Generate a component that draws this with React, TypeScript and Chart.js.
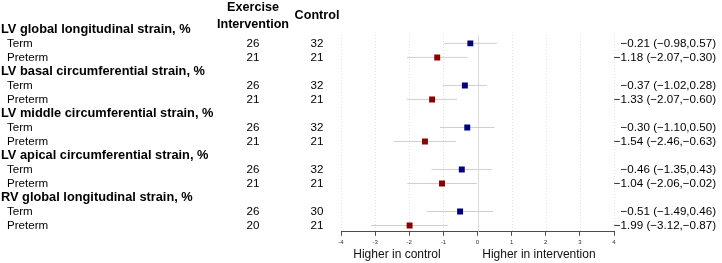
import React, { useEffect, useRef } from "react";
import { Chart, registerables } from "chart.js";

Chart.register(...registerables);

// ---- Data ----
const groupLabels = [
  "LV global longitudinal strain, %",
  "LV basal circumferential strain, %",
  "LV middle circumferential strain, %",
  "LV apical circumferential strain, %",
  "RV global longitudinal strain, %",
];
const subgroupLabels = ["Term", "Preterm"];

const termInterventionN = [26, 26, 26, 26, 26];
const termControlN = [32, 32, 32, 32, 30];
const pretermInterventionN = [21, 21, 21, 21, 20];
const pretermControlN = [21, 21, 21, 21, 21];

const termEst = [-0.21, -0.37, -0.3, -0.46, -0.51];
const termLo = [-0.98, -1.02, -1.1, -1.35, -1.49];
const termHi = [0.57, 0.28, 0.5, 0.43, 0.46];

const pretermEst = [-1.18, -1.33, -1.54, -1.04, -1.99];
const pretermLo = [-2.07, -2.07, -2.46, -2.06, -3.12];
const pretermHi = [-0.3, -0.6, -0.63, -0.02, -0.87];

const xMin = -4;
const xMax = 4;
const axisTitles = ["Higher in control", "Higher in intervention"];
const columnHeaders = ["Exercise", "Intervention", "Control"];

const FONT = "'Liberation Sans', Arial, Helvetica, sans-serif";
const BLUE = "#00007f";
const RED = "#8b0000";

const rowOf = (g: number, s: number) => g * 3 + 1 + s;
const fmt = (v: number) => {
  const s = Math.abs(v).toFixed(2);
  return v < 0 ? "\u2212" + s : s;
};
const ciText = (e: number, lo: number, hi: number) =>
  `${fmt(e)} (${fmt(lo)},${fmt(hi)})`;

export default function App() {
  const ref = useRef<HTMLCanvasElement>(null);

  useEffect(() => {
    if (!ref.current) return;

    const ciDatasets: any[] = [];
    groupLabels.forEach((_, g) => {
      ciDatasets.push({
        data: [
          { x: termLo[g], y: rowOf(g, 0) },
          { x: termHi[g], y: rowOf(g, 0) },
        ],
        showLine: true,
        borderColor: "#cfcfcf",
        borderWidth: 1,
        pointRadius: 0,
        order: 5,
      });
      ciDatasets.push({
        data: [
          { x: pretermLo[g], y: rowOf(g, 1) },
          { x: pretermHi[g], y: rowOf(g, 1) },
        ],
        showLine: true,
        borderColor: "#cfcfcf",
        borderWidth: 1,
        pointRadius: 0,
        order: 5,
      });
    });

    const termPoints = {
      data: termEst.map((v, g) => ({ x: v, y: rowOf(g, 0) })),
      pointStyle: "rect",
      pointRadius: 4.2,
      backgroundColor: BLUE,
      borderColor: BLUE,
      borderWidth: 0,
      order: 1,
    };
    const pretermPoints = {
      data: pretermEst.map((v, g) => ({ x: v, y: rowOf(g, 1) })),
      pointStyle: "rect",
      pointRadius: 4.2,
      backgroundColor: RED,
      borderColor: RED,
      borderWidth: 0,
      order: 1,
    };

    const gridPlugin = {
      id: "forestGrid",
      beforeDatasetsDraw(chart: any) {
        const { ctx, chartArea, scales } = chart;
        const x = scales.x;
        ctx.save();
        x.ticks.forEach((t: any) => {
          const px = Math.round(x.getPixelForValue(t.value)) + 0.5;
          ctx.beginPath();
          ctx.lineWidth = 1;
          if (t.value === 0) {
            ctx.strokeStyle = "#dcdcdc";
            ctx.setLineDash([]);
          } else {
            ctx.strokeStyle = "#e0e0e0";
            ctx.setLineDash([1, 2]);
          }
          ctx.moveTo(px, chartArea.top);
          ctx.lineTo(px, chartArea.bottom);
          ctx.stroke();
        });
        ctx.restore();
      },
    };

    const textPlugin = {
      id: "forestText",
      afterDraw(chart: any) {
        const { ctx, scales } = chart;
        const y = scales.y;
        const x = scales.x;
        const colInt = 253;
        const colCtrl = 317;
        const rightEdge = 716;
        ctx.save();
        ctx.textBaseline = "middle";
        ctx.fillStyle = "#000";

        // column headers
        const y0 = y.getPixelForValue(0);
        ctx.font = `bold 12.6px ${FONT}`;
        ctx.textAlign = "center";
        ctx.fillText(columnHeaders[0], colInt, y0 - 22);
        ctx.fillText(columnHeaders[1], colInt, y0 - 5);
        ctx.fillText(columnHeaders[2], colCtrl, y0 - 13.5);

        groupLabels.forEach((label, g) => {
          const hy = y.getPixelForValue(g * 3);
          ctx.font = `bold 12.8px ${FONT}`;
          ctx.textAlign = "left";
          ctx.fillText(label, 1, hy);

          const rows = [
            {
              n1: termInterventionN[g],
              n2: termControlN[g],
              txt: ciText(termEst[g], termLo[g], termHi[g]),
            },
            {
              n1: pretermInterventionN[g],
              n2: pretermControlN[g],
              txt: ciText(pretermEst[g], pretermLo[g], pretermHi[g]),
            },
          ];
          rows.forEach((r, s) => {
            const ry = y.getPixelForValue(rowOf(g, s));
            ctx.font = `11.6px ${FONT}`;
            ctx.textAlign = "left";
            ctx.fillText(subgroupLabels[s], 7, ry);
            ctx.textAlign = "center";
            ctx.fillText(String(r.n1), colInt, ry);
            ctx.fillText(String(r.n2), colCtrl, ry);
            ctx.textAlign = "right";
            ctx.fillText(r.txt, rightEdge, ry);
          });
        });

        // axis titles
        ctx.font = `12px ${FONT}`;
        ctx.textAlign = "center";
        ctx.fillStyle = "#111";
        ctx.fillText(axisTitles[0], x.getPixelForValue(-2.36), 255);
        ctx.fillText(axisTitles[1], x.getPixelForValue(1.8), 255);
        ctx.restore();
      },
    };

    const chart = new Chart(ref.current, {
      type: "scatter",
      data: { datasets: [termPoints, pretermPoints, ...ciDatasets] as any },
      options: {
        animation: false,
        responsive: false,
        events: [],
        layout: { padding: { left: 341, right: 108, top: 35, bottom: 14 } },
        plugins: { legend: { display: false }, tooltip: { enabled: false } },
        scales: {
          x: {
            type: "linear",
            min: xMin,
            max: xMax,
            ticks: {
              stepSize: 1,
              font: { size: 6, family: FONT },
              color: "#333",
              padding: 3,
              maxRotation: 0,
            },
            grid: {
              drawOnChartArea: false,
              drawTicks: true,
              tickLength: 4,
              tickColor: "#4d4d4d",
              tickWidth: 1,
            },
            border: { display: true, color: "#4d4d4d", width: 1 },
          },
          y: {
            type: "linear",
            display: false,
            reverse: true,
            min: 0.4,
            max: 14.45,
          },
        },
      },
      plugins: [gridPlugin, textPlugin],
    });

    return () => chart.destroy();
  }, []);

  return (
    <div
      style={{
        position: "fixed",
        left: 0,
        top: 0,
        width: 722,
        height: 263,
        background: "#fff",
      }}
    >
      <canvas ref={ref} width={722} height={263} style={{ display: "block" }} />
    </div>
  );
}
